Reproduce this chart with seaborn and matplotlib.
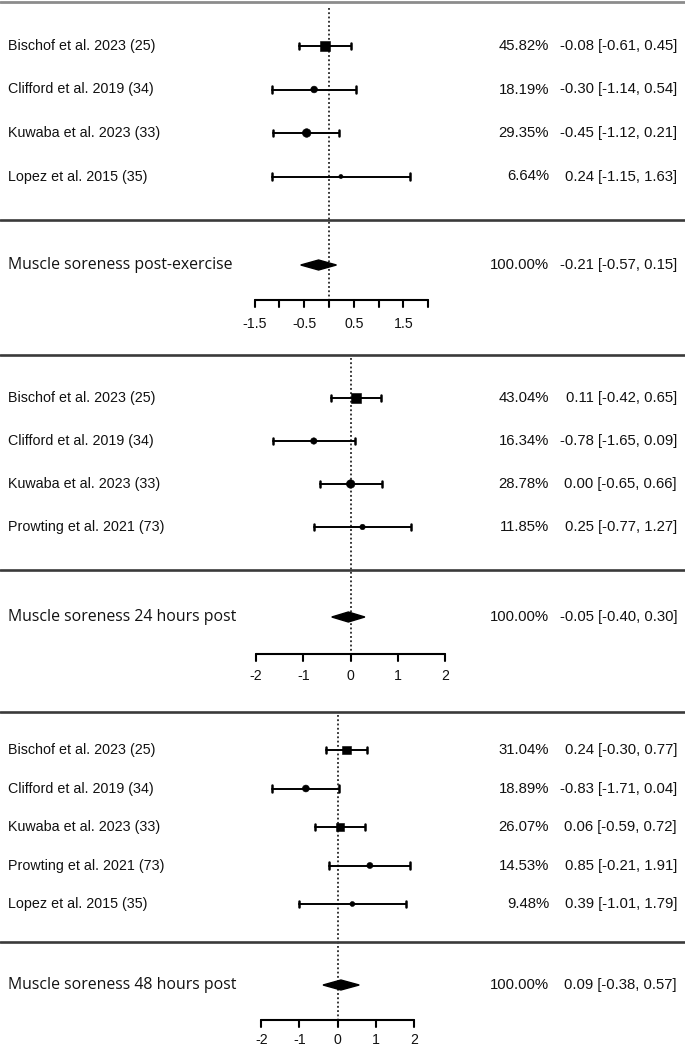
import numpy as np
import pandas as pd
import matplotlib
matplotlib.use("Agg")
import matplotlib.pyplot as plt
import matplotlib.transforms as mtransforms
import seaborn as sns

# ---------------- data ----------------
p1_studies = ["Bischof et al. 2023 (25)", "Clifford et al. 2019 (34)",
              "Kuwaba et al. 2023 (33)", "Lopez et al. 2015 (35)"]
p1_weight = [45.82, 18.19, 29.35, 6.64]
p1_est = [-0.08, -0.30, -0.45, 0.24]
p1_lo = [-0.61, -1.14, -1.12, -1.15]
p1_hi = [0.45, 0.54, 0.21, 1.63]
p1_summary_label = "Muscle soreness post-exercise"
p1_summary = [100.00, -0.21, -0.57, 0.15]
p1_ticks = [-1.5, -1.0, -0.5, 0.0, 0.5, 1.0, 1.5, 2.0]
p1_ticklabels = ["-1.5", "", "-0.5", "", "0.5", "", "1.5", ""]

p2_studies = ["Bischof et al. 2023 (25)", "Clifford et al. 2019 (34)",
              "Kuwaba et al. 2023 (33)", "Prowting et al. 2021 (73)"]
p2_weight = [43.04, 16.34, 28.78, 11.85]
p2_est = [0.11, -0.78, 0.00, 0.25]
p2_lo = [-0.42, -1.65, -0.65, -0.77]
p2_hi = [0.65, 0.09, 0.66, 1.27]
p2_summary_label = "Muscle soreness 24 hours post"
p2_summary = [100.00, -0.05, -0.40, 0.30]
p2_ticks = [-2, -1, 0, 1, 2]
p2_ticklabels = ["-2", "-1", "0", "1", "2"]

p3_studies = ["Bischof et al. 2023 (25)", "Clifford et al. 2019 (34)",
              "Kuwaba et al. 2023 (33)", "Prowting et al. 2021 (73)",
              "Lopez et al. 2015 (35)"]
p3_weight = [31.04, 18.89, 26.07, 14.53, 9.48]
p3_est = [0.24, -0.83, 0.06, 0.85, 0.39]
p3_lo = [-0.30, -1.71, -0.59, -0.21, -1.01]
p3_hi = [0.77, 0.04, 0.72, 1.91, 1.79]
p3_summary_label = "Muscle soreness 48 hours post"
p3_summary = [100.00, 0.09, -0.38, 0.57]
p3_ticks = [-2, -1, 0, 1, 2]
p3_ticklabels = ["-2", "-1", "0", "1", "2"]

# ---------------- layout (pixels) ----------------
W, H = 685, 1058
panels = [
    dict(studies=p1_studies, weight=p1_weight, est=p1_est, lo=p1_lo, hi=p1_hi,
         slabel=p1_summary_label, summ=p1_summary, ticks=p1_ticks, tlabels=p1_ticklabels,
         top=0, bottom=355, row0=46, rowstep=43.5, sumy=265, axy=300, laby=324,
         zero=329, unit=49.6, markers=["s", "o", "o", "o"], sep=220, ref_top=8),
    dict(studies=p2_studies, weight=p2_weight, est=p2_est, lo=p2_lo, hi=p2_hi,
         slabel=p2_summary_label, summ=p2_summary, ticks=p2_ticks, tlabels=p2_ticklabels,
         top=355, bottom=712, row0=398, rowstep=43, sumy=617, axy=654, laby=676,
         zero=350.7, unit=47.3, markers=["s", "o", "o", "o"], sep=570, ref_top=358),
    dict(studies=p3_studies, weight=p3_weight, est=p3_est, lo=p3_lo, hi=p3_hi,
         slabel=p3_summary_label, summ=p3_summary, ticks=p3_ticks, tlabels=p3_ticklabels,
         top=712, bottom=H, row0=750, rowstep=38.5, sumy=985, axy=1020, laby=1040,
         zero=337.5, unit=38.1, markers=["s", "o", "s", "o", "o"], sep=942, ref_top=715),
]

sns.set_theme(style="white")
plt.rcParams["font.family"] = ["Liberation Sans", "DejaVu Sans"]

fig = plt.figure(figsize=(W / 100, H / 100), dpi=100)
fig.patch.set_facecolor("white")

STUDY_FS = 10.3
SUM_FS = 11.4
NUM_FS = 10.7
TICK_FS = 10.2
LINE_COL = "#3a3a3a"
TXT = "#111111"
PCT_X = 549
CI_X = 677

for i, p in enumerate(panels):
    ax = fig.add_axes([0, 1 - p["bottom"] / H, 1, (p["bottom"] - p["top"]) / H])
    ax.set_axis_off()
    ax.set_xlim(-p["zero"] / p["unit"], (W - p["zero"]) / p["unit"])
    ax.set_ylim(p["bottom"], p["top"])
    trans = mtransforms.blended_transform_factory(ax.transAxes, ax.transData)

    n = len(p["studies"])
    rows = [p["row0"] + k * p["rowstep"] for k in range(n)]

    # reference line
    ax.plot([0, 0], [p["ref_top"], p["axy"]], color="black", lw=1.1,
            linestyle=(0, (1.2, 1.6)), zorder=1)

    # CIs with caps
    for k in range(n):
        y = rows[k]
        ax.plot([p["lo"][k], p["hi"][k]], [y, y], color="black", lw=1.4, zorder=2)
        for xe in (p["lo"][k], p["hi"][k]):
            ax.plot([xe, xe], [y - 3.3, y + 3.3], color="black", lw=1.8, zorder=2)

    df = pd.DataFrame({"est": p["est"], "row": rows, "w": p["weight"],
                       "mk": [f"m{k}" for k in range(n)]})
    sns.scatterplot(data=df, x="est", y="row", size="w", sizes=(0, 130),
                    size_norm=(0, 100), style="mk",
                    markers={f"m{k}": p["markers"][k] for k in range(n)},
                    color="black", edgecolor="black", linewidth=0.4,
                    legend=False, ax=ax, zorder=3)

    # study texts
    for k in range(n):
        y = rows[k]
        ax.text(8 / W, y, p["studies"][k], transform=trans, ha="left", va="center",
                fontsize=STUDY_FS, color=TXT)
        ax.text(PCT_X / W, y, f"{p['weight'][k]:.2f}%", transform=trans, ha="right",
                va="center", fontsize=NUM_FS, color=TXT)
        ax.text(CI_X / W, y,
                f"{p['est'][k]:.2f} [{p['lo'][k]:.2f}, {p['hi'][k]:.2f}]",
                transform=trans, ha="right", va="center", fontsize=NUM_FS, color=TXT)

    # separator between studies and summary
    ax.axhline(p["sep"], color=LINE_COL, lw=1.9, zorder=1, clip_on=False)
    # bottom separator
    if i < 2:
        ax.axhline(p["bottom"], color=LINE_COL, lw=1.9, zorder=1, clip_on=False)
    if i == 0:
        ax.axhline(2, color="#8c8c8c", lw=2.0, zorder=1, clip_on=False)

    # summary diamond
    w_, e_, l_, h_ = p["summ"]
    sy = p["sumy"]
    ax.fill([l_, e_, h_, e_], [sy, sy - 5, sy, sy + 5], color="black", zorder=3)
    ax.text(8 / W, sy, p["slabel"], transform=trans, ha="left", va="center",
            fontsize=SUM_FS, family=["Open Sans", "DejaVu Sans"], color=TXT)
    ax.text(PCT_X / W, sy, f"{w_:.2f}%", transform=trans, ha="right", va="center",
            fontsize=NUM_FS, color=TXT)
    ax.text(CI_X / W, sy, f"{e_:.2f} [{l_:.2f}, {h_:.2f}]", transform=trans,
            ha="right", va="center", fontsize=NUM_FS, color=TXT)

    # x axis
    t = p["ticks"]
    ay = p["axy"]
    ax.plot([t[0], t[-1]], [ay, ay], color="black", lw=1.5, zorder=2)
    for tv, tl in zip(t, p["tlabels"]):
        ax.plot([tv, tv], [ay, ay + 7], color="black", lw=1.5, zorder=2)
        if tl:
            ax.text(tv, p["laby"], tl, ha="center", va="center", fontsize=TICK_FS,
                    color=TXT)

fig.savefig("out.png", dpi=100, facecolor="white")
